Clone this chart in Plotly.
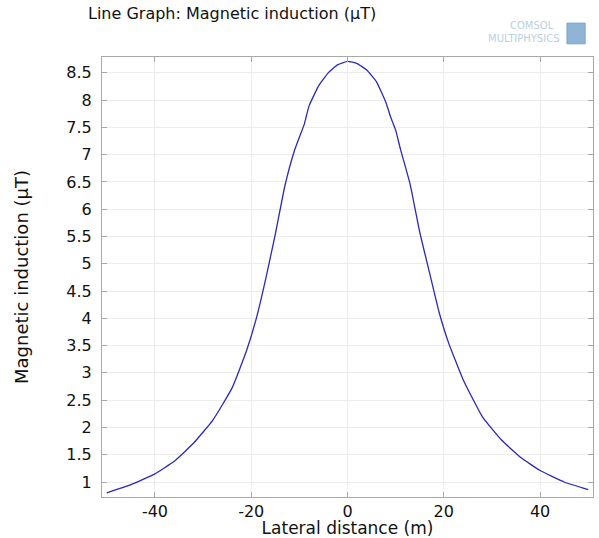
import plotly.graph_objects as go

# Lateral distance (m)
distance_m = [-50, -45, -40, -36, -32, -28, -24, -21, -19, -17, -15, -13, -11, -10, -9, -8,
              -6, -4, -2, 0, 2, 4, 6, 8, 9, 10, 11, 13, 15, 17, 19, 21, 24, 28, 32, 36, 40,
              45, 50]
# Magnetic induction (uT)
induction_uT = [0.80, 0.95, 1.15, 1.38, 1.71, 2.13, 2.72, 3.40, 3.98, 4.72, 5.54, 6.43, 7.08,
                7.32, 7.55, 7.89, 8.26, 8.50, 8.65, 8.71, 8.67, 8.55, 8.34, 7.95, 7.68, 7.45,
                7.10, 6.46, 5.58, 4.85, 4.12, 3.55, 2.88, 2.20, 1.77, 1.45, 1.21, 1.00, 0.86]

x_ticks = [-40, -20, 0, 20, 40]
y_ticks = [1, 1.5, 2, 2.5, 3, 3.5, 4, 4.5, 5, 5.5, 6, 6.5, 7, 7.5, 8, 8.5]

FONT = "DejaVu Sans"

fig = go.Figure()
fig.add_trace(go.Scatter(
    x=distance_m, y=induction_uT, mode="lines",
    line=dict(color="#2a2ab8", width=1.3, shape="spline", smoothing=0.4),
    showlegend=False, hoverinfo="x+y",
))

axis_common = dict(
    showline=True, linecolor="#a8a8a8", linewidth=1.2, mirror="ticks",
    ticks="inside", ticklen=5, tickcolor="#a8a8a8",
    showgrid=True, gridcolor="#ececec", gridwidth=1, zeroline=False,
    tickfont=dict(family=FONT, size=16, color="#111111"),
)

fig.update_layout(
    width=599, height=538,
    margin=dict(l=102, r=6, t=57, b=41),
    paper_bgcolor="white", plot_bgcolor="white",
    font=dict(family=FONT, color="#111111"),
    title=dict(text="Line Graph: Magnetic induction (µT)", x=0, xref="paper",
               xanchor="left", y=0.985, yref="container", yanchor="top",
               font=dict(family=FONT, size=16, color="#111111"), pad=dict(l=-14)),
    xaxis=dict(range=[-51, 51], tickvals=x_ticks,
               ticktext=[str(v) for v in x_ticks],
               title=dict(text="Lateral distance (m)", standoff=0,
                          font=dict(family=FONT, size=17)),
               **axis_common),
    yaxis=dict(range=[0.725, 8.79], tickvals=y_ticks,
               ticktext=[("%g" % v) for v in y_ticks],
               ticklabelstandoff=6,
               title=dict(text="Magnetic induction (µT)", standoff=32,
                          font=dict(family=FONT, size=18)),
               **axis_common),
)

# COMSOL logo (decorative)
fig.add_annotation(text="COMSOL", xref="paper", yref="paper", x=0.925, y=1.0705,
                   xanchor="right", yanchor="middle", showarrow=False,
                   font=dict(family=FONT, size=10, color="#b9cfe3"))
fig.add_annotation(text="MULTIPHYSICS", xref="paper", yref="paper", x=0.935, y=1.043,
                   xanchor="right", yanchor="middle", showarrow=False,
                   font=dict(family=FONT, size=10, color="#b9cfe3"))
fig.add_shape(type="rect", xref="paper", yref="paper", x0=0.947, x1=0.984, y0=1.03,
              y1=1.077, fillcolor="#8fb4d6", line=dict(color="#7aa3c8", width=1))

fig.write_html("out.html")
